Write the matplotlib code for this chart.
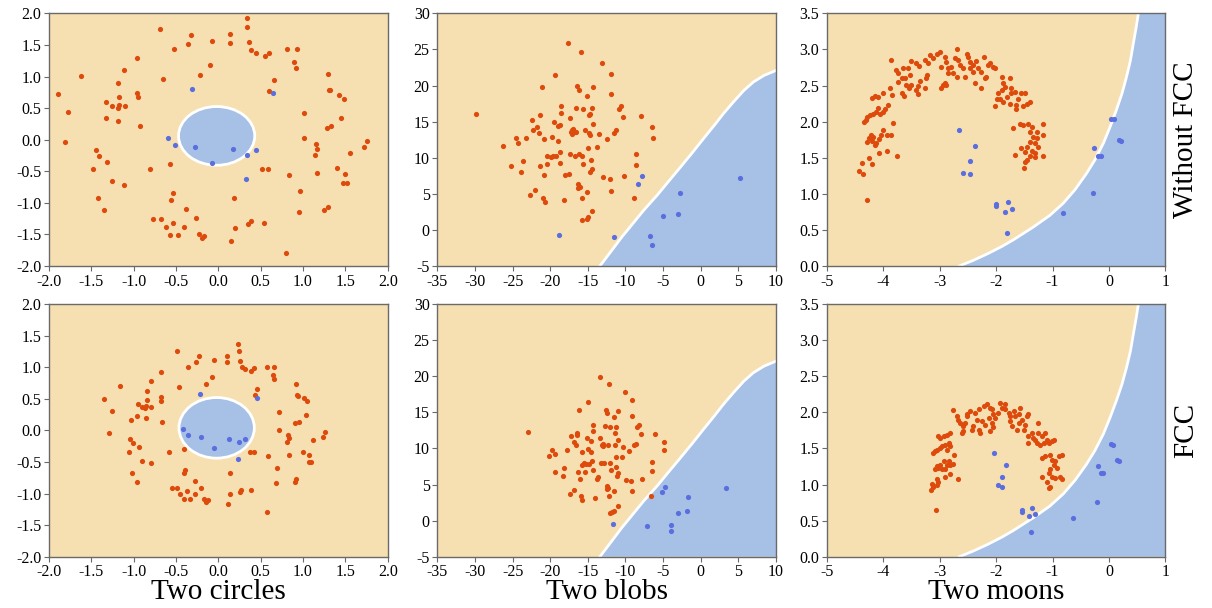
import numpy as np
import matplotlib
matplotlib.use("Agg")
import matplotlib.pyplot as plt
from matplotlib.patches import Ellipse
from matplotlib.ticker import FormatStrFormatter

plt.rcParams['font.family'] = ['Liberation Serif', 'DejaVu Serif']
plt.rcParams['axes.unicode_minus'] = False

# ---- Two circles, without FCC ----
circ_top_red = np.array([
    (-1.89, 0.72), (-1.77, 0.44), (-1.81, -0.04), (-1.62, 1.01), (-0.69, 1.76), (-0.96, 1.30),
    (-1.11, 1.11), (-1.18, 0.89), (-1.17, 0.68), (-1.33, 0.59), (-1.25, 0.53), (-1.19, 0.50),
    (-1.17, 0.55), (-1.10, 0.53), (-0.96, 0.74), (-0.95, 0.67), (-1.33, 0.35), (-1.19, 0.30),
    (-0.92, 0.21), (-0.65, 0.96), (-0.52, 1.44), (-0.36, 1.52), (-0.32, 1.66), (-0.07, 1.57),
    (-0.10, 1.19), (-0.22, 1.02), (0.14, 1.67), (0.14, 1.53), (0.34, 1.92), (0.34, 1.78),
    (0.36, 1.55), (0.38, 1.42), (0.44, 1.38), (0.55, 1.33), (0.60, 1.38), (0.81, 1.43),
    (0.93, 1.43), (0.89, 1.23), (0.92, 1.14), (0.66, 0.94), (0.60, 0.77), (1.30, 1.04),
    (1.31, 0.79), (1.32, 0.79), (1.43, 0.70), (1.48, 0.65), (1.01, 0.43), (1.45, 0.35),
    (1.33, 0.21), (1.28, 0.19), (1.01, 0.03), (1.15, -0.07), (1.17, -0.15), (1.14, -0.25),
    (1.76, -0.02), (1.72, -0.12), (1.56, -0.21), (1.40, -0.45), (1.50, -0.54), (1.17, -0.53),
    (0.84, -0.56), (1.47, -0.68), (1.52, -0.68), (0.96, -0.81), (0.52, -0.46), (0.59, -0.46),
    (0.19, -0.92), (0.95, -1.14), (1.29, -1.06), (1.25, -1.12), (0.54, -1.32), (0.39, -1.28),
    (0.35, -1.33), (0.20, -1.40), (0.15, -1.61), (0.80, -1.79), (-0.23, -1.49), (-0.19, -1.56),
    (-0.17, -1.52), (-0.26, -1.24), (-0.38, -1.09), (-0.40, -1.39), (-0.48, -1.51), (-0.57, -1.51),
    (-0.53, -1.32), (-0.62, -1.38), (-0.68, -1.26), (-0.77, -1.26), (-0.54, -0.84), (-0.56, -0.95),
    (-0.57, -0.39), (-0.81, -0.47), (-1.11, -0.72), (-1.26, -0.65), (-1.32, -0.36), (-1.41, -0.26),
    (-1.45, -0.17), (-1.48, -0.46), (-1.42, -0.93), (-1.35, -1.12)])
circ_top_blue = np.array([
    (-0.31, 0.81), (0.64, 0.74), (-0.59, 0.03), (-0.51, -0.09), (-0.27, -0.12),
    (-0.07, -0.37), (0.17, -0.15), (0.34, -0.25), (0.45, -0.16), (0.33, -0.62)])

# ---- Two circles, FCC ----
circ_bot_red = np.array([
    (-1.35, 0.50), (-1.26, 0.30), (-1.29, -0.04), (-1.16, 0.71), (-1.03, 0.17), (-1.04, -0.13),
    (-1.01, -0.20), (-1.06, -0.35), (-1.02, -0.68), (-0.96, -0.82), (-0.96, 0.23), (-0.95, 0.41),
    (-0.94, -0.26), (-0.90, -0.48), (-0.90, 0.37), (-0.87, 0.35), (-0.85, 0.38), (-0.84, 0.63),
    (-0.84, 0.48), (-0.85, 0.20), (-0.80, 0.78), (-0.79, 0.37), (-0.79, -0.52), (-0.68, 0.92),
    (-0.68, 0.53), (-0.68, 0.47), (-0.66, 0.13), (-0.58, -0.35), (-0.55, -0.92), (-0.49, -0.92),
    (-0.49, 1.25), (-0.46, 0.68), (-0.45, -1.00), (-0.41, -0.29), (-0.41, -1.09), (-0.40, -0.68),
    (-0.39, -0.62), (-0.37, -0.96), (-0.36, 1.01), (-0.34, -1.09), (-0.28, -0.80), (-0.28, -1.01),
    (-0.26, 1.08), (-0.23, 1.18), (-0.20, -0.91), (-0.17, -1.08), (-0.15, 0.73), (-0.15, -1.13),
    (-0.12, -1.10), (-0.07, 0.84), (-0.05, 1.11), (0.10, 1.18), (0.10, 1.09), (0.11, -1.17),
    (0.14, -0.67), (0.14, -1.01), (0.23, 1.36), (0.24, 1.26), (0.26, 1.10), (0.25, -0.98),
    (0.27, -0.95), (0.28, 1.00), (0.32, 0.97), (0.37, -0.35), (0.39, 0.94), (0.39, -0.95),
    (0.42, 0.98), (0.42, -0.35), (0.43, 0.56), (0.46, 0.66), (0.57, 1.01), (0.57, -1.29),
    (0.59, -0.41), (0.64, 0.88), (0.66, 0.81), (0.66, 1.01), (0.68, -0.84), (0.69, -0.60),
    (0.72, 0.29), (0.72, 0.00), (0.82, -0.07), (0.83, -0.12), (0.81, -0.19), (0.84, -0.39),
    (0.90, -0.82), (0.92, -0.77), (0.92, 0.73), (0.93, 0.56), (0.94, 0.55), (0.91, 0.12),
    (0.95, 0.13), (1.00, -0.34), (1.01, 0.52), (1.05, 0.46), (1.04, 0.24), (1.07, -0.50),
    (1.09, -0.50), (1.07, -0.39), (1.12, -0.16), (1.23, -0.10), (1.26, -0.03)])
circ_bot_blue = np.array([
    (-0.22, 0.57), (0.46, 0.51), (-0.42, 0.02), (-0.36, -0.08), (-0.20, -0.10),
    (-0.05, -0.28), (0.12, -0.13), (0.24, -0.19), (0.32, -0.13), (0.23, -0.46)])

# ---- Two blobs, without FCC ----
blob_top_red = np.array([
    (-29.90, 16.02), (-26.22, 11.63), (-25.20, 8.86), (-24.58, 12.75), (-24.27, 12.10), (-23.92, 7.99),
    (-23.61, 9.56), (-23.17, 12.80), (-22.46, 15.20), (-22.23, 13.81), (-21.79, 14.27), (-21.48, 13.44),
    (-21.35, 15.89), (-21.39, 8.86), (-22.68, 4.89), (-21.97, 5.54), (-21.04, 19.82), (-20.82, 12.61),
    (-20.86, 7.57), (-20.95, 4.47), (-20.64, 3.92), (-20.42, 10.20), (-20.37, 9.09), (-19.88, 10.16),
    (-19.75, 12.84), (-19.57, 10.20), (-19.49, 14.97), (-19.35, 21.44), (-19.26, 10.25), (-18.99, 12.38),
    (-18.91, 14.37), (-18.69, 14.51), (-18.69, 10.76), (-18.60, 17.22), (-18.56, 16.20), (-18.64, 9.32),
    (-18.20, 4.15), (-18.02, 7.57), (-17.62, 25.92), (-17.49, 7.80), (-17.40, 15.48), (-17.40, 10.53),
    (-17.27, 13.58), (-17.14, 13.81), (-17.14, 13.25), (-16.91, 14.00), (-16.69, 13.58), (-16.69, 10.25),
    (-16.56, 16.90), (-16.52, 13.53), (-16.38, 19.91), (-16.21, 19.35), (-16.16, 10.53), (-16.34, 6.31),
    (-16.25, 5.80), (-15.98, 5.94), (-15.72, 10.20), (-15.90, 24.58), (-15.67, 16.76), (-15.81, 4.38),
    (-15.67, 9.09), (-15.72, 1.41), (-15.36, 13.86), (-15.10, 18.58), (-15.10, 5.26), (-15.14, 1.55),
    (-14.96, 1.78), (-14.92, 11.35), (-14.83, 15.89), (-14.79, 13.44), (-14.74, 13.12), (-14.70, 16.11),
    (-14.70, 8.03), (-14.57, 9.74), (-14.43, 8.40), (-14.43, 16.90), (-14.39, 2.61), (-14.30, 19.82),
    (-14.34, 14.74), (-13.81, 11.44), (-13.50, 13.25), (-13.15, 23.19), (-12.93, 7.34), (-12.39, 12.66),
    (-12.08, 7.11), (-11.99, 21.63), (-11.99, 18.81), (-11.95, 5.40), (-11.51, 13.44), (-11.24, 13.90),
    (-10.89, 16.72), (-10.58, 17.22), (-10.27, 15.66), (-10.22, 7.48), (-8.89, 4.47), (-8.58, 10.57),
    (-8.54, 9.04), (-8.00, 15.75), (-6.50, 14.23), (-6.41, 12.70)])
blob_top_blue = np.array([
    (-18.78, -0.66), (-11.55, -1.03), (-8.36, 6.37), (-7.78, 7.43), (-6.72, -0.80),
    (-6.45, -2.09), (-5.04, 1.89), (-3.04, 2.21), (-2.73, 5.17), (5.20, 7.25)])

# ---- Two blobs, FCC ----
blob_bot_red = np.array([
    (-22.90, 12.29), (-20.11, 8.90), (-19.80, 9.74), (-19.35, 9.28), (-19.35, 6.73), (-18.20, 7.29),
    (-18.33, 6.13), (-17.71, 9.74), (-17.27, 11.69), (-17.40, 3.71), (-16.83, 4.18), (-16.78, 10.85),
    (-16.60, 10.53), (-16.47, 11.83), (-16.38, 12.15), (-16.34, 6.68), (-16.16, 15.26), (-16.03, 5.80),
    (-15.94, 3.39), (-15.81, 2.88), (-15.81, 9.46), (-15.72, 7.70), (-15.54, 7.93), (-15.36, 6.77),
    (-15.19, 7.79), (-15.10, 11.46), (-14.92, 16.41), (-14.83, 7.89), (-14.92, 9.93), (-14.61, 9.51),
    (-14.52, 11.09), (-14.39, 8.30), (-14.30, 13.21), (-14.26, 12.38), (-14.30, 7.05), (-13.99, 3.11),
    (-13.81, 5.76), (-13.59, 5.99), (-13.41, 19.85), (-13.32, 11.46), (-13.24, 7.98), (-13.15, 10.44),
    (-12.97, 10.67), (-12.93, 10.30), (-12.84, 7.98), (-12.70, 13.07), (-12.61, 15.30), (-12.52, 14.93),
    (-12.48, 4.82), (-12.43, 4.36), (-12.26, 4.50), (-12.26, 10.44), (-12.17, 18.88), (-12.08, 7.98),
    (-12.08, 12.99), (-11.99, 7.05), (-12.17, 3.35), (-12.08, 1.12), (-11.73, 1.16), (-11.55, 4.04),
    (-11.46, 1.35), (-11.55, 14.33), (-11.37, 10.53), (-11.37, 12.15), (-11.28, 12.98), (-11.20, 7.42),
    (-11.20, 8.81), (-11.11, 6.12), (-11.06, 1.96), (-10.97, 15.16), (-10.93, 11.23), (-10.93, 6.59),
    (-10.49, 8.77), (-10.31, 10.16), (-10.04, 17.80), (-9.95, 5.57), (-9.47, 9.69), (-9.25, 5.43),
    (-9.16, 16.65), (-9.16, 14.47), (-9.16, 4.13), (-8.85, 10.44), (-8.63, 10.67), (-8.41, 12.98),
    (-8.18, 13.31), (-7.96, 12.06), (-7.83, 5.75), (-6.59, 3.34), (-6.50, 8.12), (-6.50, 6.91),
    (-6.14, 12.06), (-4.95, 10.90), (-4.90, 9.74)])
blob_bot_blue = np.array([
    (-11.64, -0.46), (-7.12, -0.69), (-5.17, 3.94), (-4.81, 4.64), (-3.97, -0.55),
    (-3.97, -1.39), (-3.09, 1.11), (-1.84, 1.30), (-1.67, 3.20), (3.36, 4.45)])

# ---- Two moons, without FCC ----
moon_top_red = np.array([
    (-4.42, 1.31), (-4.36, 1.28), (-4.37, 1.43), (-4.25, 1.49), (-4.20, 1.42), (-4.07, 1.57),
    (-3.94, 1.60), (-3.75, 1.53), (-4.28, 0.91), (-4.29, 1.72), (-4.25, 1.78), (-4.22, 1.82),
    (-4.18, 1.79), (-4.20, 1.73), (-4.12, 1.71), (-4.07, 1.76), (-4.03, 1.82), (-4.01, 1.88),
    (-3.94, 1.82), (-3.87, 1.82), (-4.15, 1.67), (-4.34, 1.99), (-4.30, 2.02), (-4.28, 2.07),
    (-4.23, 2.09), (-4.18, 2.10), (-4.12, 2.14), (-4.06, 2.10), (-4.00, 2.14), (-3.97, 2.18),
    (-3.91, 2.23), (-4.09, 2.19), (-3.82, 1.98), (-4.19, 2.33), (-4.15, 2.36), (-4.09, 2.34),
    (-4.00, 2.39), (-3.88, 2.46), (-3.85, 2.37), (-3.67, 2.39), (-3.63, 2.36), (-3.73, 2.55),
    (-3.67, 2.60), (-3.61, 2.61), (-3.59, 2.51), (-3.54, 2.46), (-3.50, 2.51), (-3.53, 2.64),
    (-3.64, 2.74), (-3.77, 2.72), (-3.73, 2.68), (-3.56, 2.74), (-3.87, 2.85), (-3.50, 2.84),
    (-3.42, 2.81), (-3.36, 2.77), (-3.26, 2.85), (-3.20, 2.81), (-3.17, 2.92), (-3.11, 2.88),
    (-3.05, 2.94), (-2.99, 2.96), (-3.22, 2.65), (-3.24, 2.60), (-3.35, 2.57), (-3.41, 2.44),
    (-3.38, 2.38), (-3.26, 2.46), (-3.38, 2.50), (-2.91, 2.90), (-2.88, 2.83), (-2.97, 2.76),
    (-2.85, 2.74), (-2.79, 2.76), (-2.70, 3.00), (-2.73, 2.88), (-2.67, 2.85), (-2.64, 2.78),
    (-2.59, 2.74), (-2.55, 2.62), (-2.70, 2.62), (-2.76, 2.67), (-2.85, 2.67), (-2.91, 2.53),
    (-2.94, 2.51), (-2.98, 2.47), (-2.88, 2.51), (-2.52, 2.94), (-2.49, 2.90), (-2.46, 2.83),
    (-2.40, 2.78), (-2.35, 2.84), (-2.32, 2.74), (-2.40, 2.69), (-2.46, 2.74), (-2.26, 2.69),
    (-2.22, 2.89), (-2.14, 2.78), (-2.11, 2.81), (-2.05, 2.76), (-2.02, 2.74), (-2.20, 2.60),
    (-2.17, 2.62), (-2.38, 2.53), (-2.26, 2.47), (-1.90, 2.62), (-1.76, 2.60), (-1.87, 2.53),
    (-1.84, 2.48), (-1.90, 2.44), (-1.96, 2.39), (-1.99, 2.32), (-1.93, 2.32), (-1.87, 2.27),
    (-1.81, 2.34), (-1.73, 2.39), (-1.67, 2.41), (-1.73, 2.46), (-1.76, 2.25), (-1.64, 2.23),
    (-1.61, 2.32), (-1.55, 2.39), (-1.49, 2.39), (-1.46, 2.25), (-1.40, 2.27), (-1.52, 2.21),
    (-1.64, 2.18), (-2.02, 2.21), (-1.58, 1.97), (-1.52, 1.96), (-1.43, 1.97), (-1.37, 1.93),
    (-1.70, 1.91), (-1.40, 1.86), (-1.28, 1.86), (-1.17, 1.97), (-1.17, 1.82), (-1.34, 1.79),
    (-1.40, 1.72), (-1.31, 1.70), (-1.27, 1.77), (-1.46, 1.65), (-1.55, 1.63), (-1.49, 1.58),
    (-1.37, 1.60), (-1.31, 1.57), (-1.25, 1.65), (-1.67, 1.54), (-1.17, 1.53), (-1.40, 1.53),
    (-1.49, 1.44), (-1.46, 1.47), (-1.50, 1.36), (-1.31, 1.51)])
moon_top_blue = np.array([
    (-2.66, 1.88), (-2.37, 1.66), (-2.46, 1.45), (-2.58, 1.29), (-2.46, 1.27), (-2.01, 0.86),
    (-2.01, 0.83), (-1.79, 0.89), (-1.84, 0.75), (-1.71, 0.79), (-1.80, 0.46), (-0.82, 0.73),
    (-0.29, 1.01), (-0.26, 1.64), (-0.20, 1.52), (-0.14, 1.52), (0.04, 2.03), (0.09, 2.03),
    (0.18, 1.75), (0.21, 1.73)])

# ---- Two moons, FCC ----
moon_bot_red = np.array([
    (-3.06, 0.65), (-3.15, 0.93), (-3.11, 0.97), (-3.13, 1.01), (-3.05, 1.00), (-3.02, 1.04),
    (-3.05, 1.08), (-2.90, 1.10), (-2.81, 1.14), (-2.68, 1.08), (-3.08, 1.21), (-3.05, 1.25),
    (-3.02, 1.23), (-2.99, 1.27), (-2.96, 1.21), (-2.90, 1.22), (-2.87, 1.27), (-2.84, 1.32),
    (-2.93, 1.32), (-2.81, 1.27), (-2.76, 1.29), (-2.74, 1.41), (-3.11, 1.44), (-3.08, 1.46),
    (-3.05, 1.48), (-2.99, 1.51), (-2.96, 1.53), (-2.90, 1.55), (-2.84, 1.58), (-2.81, 1.53),
    (-2.87, 1.48), (-2.99, 1.65), (-2.93, 1.67), (-2.87, 1.69), (-2.81, 1.72), (-3.02, 1.67),
    (-2.77, 2.03), (-2.70, 1.95), (-2.67, 1.90), (-2.64, 1.85), (-2.58, 1.81), (-2.55, 1.85),
    (-2.52, 1.95), (-2.58, 1.74), (-2.61, 1.72), (-2.52, 1.97), (-2.46, 2.02), (-2.37, 1.99),
    (-2.31, 2.04), (-2.34, 1.90), (-2.25, 1.88), (-2.40, 1.81), (-2.43, 1.76), (-2.31, 1.76),
    (-2.28, 1.72), (-2.19, 1.83), (-2.22, 2.09), (-2.16, 2.11), (-2.11, 2.06), (-2.08, 2.04),
    (-2.05, 1.97), (-2.02, 1.92), (-2.13, 1.92), (-2.08, 1.85), (-2.05, 1.79), (-2.11, 1.74),
    (-1.96, 1.99), (-1.93, 2.13), (-1.90, 2.06), (-1.84, 2.04), (-1.84, 2.11), (-1.78, 1.99),
    (-1.75, 1.95), (-1.75, 1.88), (-1.72, 1.81), (-1.69, 2.02), (-1.66, 1.95), (-1.60, 1.97),
    (-1.57, 2.06), (-1.54, 1.90), (-1.60, 1.85), (-1.48, 1.83), (-1.45, 1.95), (-1.43, 1.97),
    (-1.51, 1.76), (-1.63, 1.76), (-1.43, 1.67), (-1.37, 1.72), (-1.34, 1.65), (-1.31, 1.62),
    (-1.25, 1.85), (-1.25, 1.72), (-1.19, 1.67), (-1.13, 1.72), (-1.10, 1.62), (-1.07, 1.58),
    (-1.01, 1.60), (-0.98, 1.62), (-1.16, 1.58), (-1.22, 1.55), (-1.28, 1.58), (-1.43, 1.58),
    (-1.19, 1.37), (-1.13, 1.39), (-1.04, 1.41), (-1.01, 1.34), (-0.95, 1.32), (-0.89, 1.39),
    (-0.83, 1.41), (-0.98, 1.27), (-0.92, 1.23), (-1.04, 1.21), (-1.07, 1.16), (-1.01, 1.11),
    (-0.95, 1.09), (-0.86, 1.10), (-0.83, 1.08), (-1.19, 1.10), (-1.10, 1.04), (-1.04, 0.96),
    (-1.07, 0.95)])
moon_bot_blue = np.array([
    (-2.04, 1.43), (-1.82, 1.27), (-1.89, 1.10), (-1.97, 0.99), (-1.89, 0.96), (-1.54, 0.64),
    (-1.54, 0.62), (-1.37, 0.67), (-1.41, 0.56), (-1.31, 0.59), (-1.38, 0.34), (-0.63, 0.54),
    (-0.21, 0.76), (-0.20, 1.25), (-0.15, 1.16), (-0.11, 1.16), (0.04, 1.56), (0.07, 1.55),
    (0.15, 1.34), (0.18, 1.32)])

# decision boundaries
circ_top_boundary = (-0.02, 0.06, 0.90, 0.93)   # centre x, centre y, width, height
circ_bot_boundary = (-0.02, 0.04, 0.89, 0.96)
blob_boundary_x = [-13.4, -11.8, -10.5, -9.4, -7.6, -5.8, -4.3, -2.7, -1.2, 0.4, 1.8, 3.0, 4.4, 5.7, 7.0, 8.4, 10.0]
blob_boundary_y = [-5.0, -2.8, -1.0, 0.4, 2.7, 4.8, 6.7, 8.7, 10.6, 12.7, 14.5, 16.1, 17.8, 19.3, 20.5, 21.4, 22.1]
moon_boundary_x = [-2.65, -2.40, -2.15, -1.90, -1.70, -1.34, -1.05, -0.81, -0.60, -0.40, -0.25, -0.10, 0.02, 0.13, 0.23, 0.31, 0.38, 0.43, 0.48, 0.52]
moon_boundary_y = [0.0, 0.08, 0.17, 0.27, 0.36, 0.54, 0.70, 0.87, 1.06, 1.28, 1.47, 1.70, 1.93, 2.16, 2.39, 2.62, 2.85, 3.08, 3.30, 3.5]

ORANGE = '#f6e0b2'
BLUEBG = '#a6c1e5'
RED = '#dd4a0c'
BLUE = '#5a6ee0'
SPINE = '#6a6a6a'

fig = plt.figure(figsize=(12.12, 6.08), dpi=100)
lefts = [0.0404, 0.3608, 0.6821]
width = 0.2795
bottoms = [0.5625, 0.0844]
height = 0.4155


def style(ax, xlim, ylim, xt, yt, xf, yf):
    ax.set_xlim(*xlim)
    ax.set_ylim(*ylim)
    ax.set_xticks(xt)
    ax.set_yticks(yt)
    ax.xaxis.set_major_formatter(FormatStrFormatter(xf))
    ax.yaxis.set_major_formatter(FormatStrFormatter(yf))
    ax.tick_params(labelsize=11.5, length=3.5, width=0.8, color=SPINE, pad=2)
    for s in ax.spines.values():
        s.set_color(SPINE)
        s.set_linewidth(1.0)


def dots(ax, red, blue):
    ax.scatter(red[:, 0], red[:, 1], s=14, color=RED, linewidths=0, zorder=3)
    ax.scatter(blue[:, 0], blue[:, 1], s=14, color=BLUE, linewidths=0, zorder=3)


circles = [(circ_top_red, circ_top_blue, circ_top_boundary), (circ_bot_red, circ_bot_blue, circ_bot_boundary)]
blobs = [(blob_top_red, blob_top_blue), (blob_bot_red, blob_bot_blue)]
moons = [(moon_top_red, moon_top_blue), (moon_bot_red, moon_bot_blue)]

for r in range(2):
    # circles
    ax = fig.add_axes([lefts[0], bottoms[r], width, height])
    ax.set_facecolor(ORANGE)
    cx, cy, w, h = circles[r][2]
    ax.add_patch(Ellipse((cx, cy), w, h, facecolor=BLUEBG, edgecolor='white', linewidth=2, zorder=2))
    dots(ax, circles[r][0], circles[r][1])
    style(ax, (-2, 2), (-2, 2), np.arange(-2, 2.01, 0.5), np.arange(-2, 2.01, 0.5), '%.1f', '%.1f')

    # blobs
    ax = fig.add_axes([lefts[1], bottoms[r], width, height])
    ax.set_facecolor(ORANGE)
    ax.fill(blob_boundary_x + [10], blob_boundary_y + [-5], color=BLUEBG, linewidth=0, zorder=1)
    ax.plot(blob_boundary_x, blob_boundary_y, color='white', linewidth=2, zorder=2)
    dots(ax, blobs[r][0], blobs[r][1])
    style(ax, (-35, 10), (-5, 30), np.arange(-35, 11, 5), np.arange(-5, 31, 5), '%d', '%d')

    # moons
    ax = fig.add_axes([lefts[2], bottoms[r], width, height])
    ax.set_facecolor(ORANGE)
    ax.fill(moon_boundary_x + [1, 1], moon_boundary_y + [3.5, 0], color=BLUEBG, linewidth=0, zorder=1)
    ax.plot(moon_boundary_x, moon_boundary_y, color='white', linewidth=2, zorder=2)
    dots(ax, moons[r][0], moons[r][1])
    style(ax, (-5, 1), (0, 3.5), np.arange(-5, 2, 1), np.arange(0, 3.51, 0.5), '%d', '%.1f')

col_titles = ['Two circles', 'Two blobs', 'Two moons']
for i, t in enumerate(col_titles):
    fig.text(lefts[i] + width / 2, 1 - 592 / 608, t, ha='center', va='center', fontsize=21)

row_titles = ['Without FCC', 'FCC']
for r, t in enumerate(row_titles):
    fig.text(1 - 26 / 1212, bottoms[r] + height / 2, t, ha='center', va='center', rotation=90, fontsize=21)

fig.savefig('out.png', dpi=100)
